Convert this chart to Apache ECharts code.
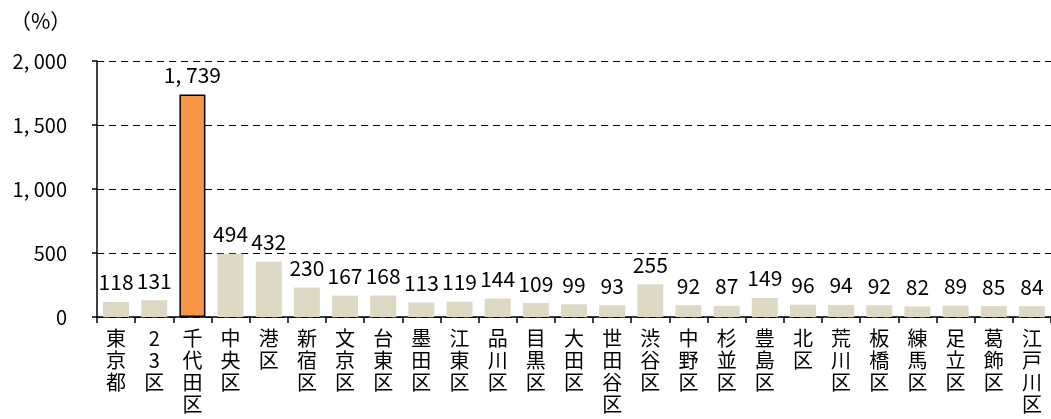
<!DOCTYPE html>
<html>
<head>
<meta charset="utf-8">
<script src="https://cdn.jsdelivr.net/npm/echarts@6/dist/echarts.min.js"></script>
<style>
  html, body { margin: 0; padding: 0; background: #ffffff; }
  #chart { width: 1051px; height: 419px; }
</style>
</head>
<body>
<div id="chart"></div>
<script>
// Wards of Tokyo and their ratio (%)
const categories = ['東京都', '23区', '千代田区', '中央区', '港区', '新宿区', '文京区', '台東区', '墨田区',
  '江東区', '品川区', '目黒区', '大田区', '世田谷区', '渋谷区', '中野区', '杉並区', '豊島区', '北区',
  '荒川区', '板橋区', '練馬区', '足立区', '葛飾区', '江戸川区'];
const values = [118, 131, 1739, 494, 432, 230, 167, 168, 113, 119, 144, 109, 99, 93, 255, 92, 87, 149, 96,
  94, 92, 82, 89, 85, 84];
const highlighted = '千代田区';
const yTicks = { min: 0, max: 2000, interval: 500 };
const unitLabel = '（%）';

const FONT = '"Noto Sans CJK JP", "Noto Sans", sans-serif';
const withComma = v => String(v).replace(/\B(?=(\d{3})+(?!\d))/g, ', ');

const seriesData = values.map((v, i) => {
  const isHi = categories[i] === highlighted;
  return {
    value: v,
    itemStyle: isHi
      ? { color: '#F79646', borderColor: '#000000', borderWidth: 1.5 }
      : { color: '#DDD9C4' }
  };
});

const chart = echarts.init(document.getElementById('chart'), null, { renderer: 'canvas' });
chart.setOption({
  animation: false,
  backgroundColor: '#ffffff',
  textStyle: { fontFamily: FONT },
  grid: { left: 97, right: -4, top: 61, bottom: 102, containLabel: false },
  graphic: [{
    type: 'text', left: 10, top: 11,
    style: { text: unitLabel, font: '21px ' + FONT, fill: '#000000' }
  }],
  xAxis: {
    type: 'category',
    data: categories,
    axisLine: { lineStyle: { color: '#000000', width: 1.5 } },
    axisTick: { show: true, alignWithLabel: false, length: 6, lineStyle: { color: '#000000', width: 1.5 } },
    axisLabel: {
      interval: 0, margin: 10, color: '#000000', fontSize: 20, lineHeight: 22,
      fontFamily: FONT, verticalAlign: 'top',
      formatter: s => s.split('').join('\n')
    }
  },
  yAxis: {
    type: 'value',
    min: yTicks.min, max: yTicks.max, interval: yTicks.interval,
    axisLine: { show: true, lineStyle: { color: '#000000', width: 1.5 } },
    axisTick: { show: true, length: 5, lineStyle: { color: '#000000', width: 1.5 } },
    axisLabel: { margin: 30, color: '#000000', fontSize: 20, fontFamily: FONT, formatter: withComma },
    splitLine: { show: true, lineStyle: { color: '#000000', type: [7, 5], width: 1.2 } }
  },
  series: [{
    type: 'bar',
    data: seriesData,
    barWidth: 26,
    label: {
      show: true, position: 'top', distance: 9, color: '#000000', fontSize: 21,
      fontFamily: FONT, formatter: p => withComma(p.value)
    }
  }]
});
</script>
</body>
</html>
